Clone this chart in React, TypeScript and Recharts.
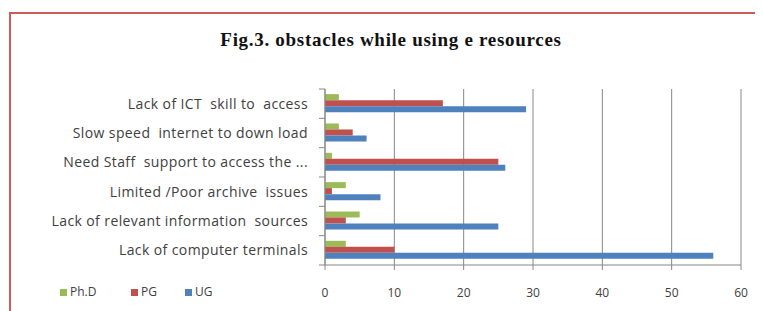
import { BarChart, Bar, XAxis, YAxis, CartesianGrid } from 'recharts';

// categories listed top to bottom, as in the figure
const categories = [
  'Lack of ICT  skill to  access',
  'Slow speed  internet to down load',
  'Need Staff  support to access the ...',
  'Limited /Poor archive  issues',
  'Lack of relevant information  sources',
  'Lack of computer terminals',
];

const phdValues = [2, 2, 1, 3, 5, 3];
const pgValues = [17, 4, 25, 1, 3, 10];
const ugValues = [29, 6, 26, 8, 25, 56];

const xTicks = [0, 10, 20, 30, 40, 50, 60];

const series = [
  { key: 'phd', name: 'Ph.D', color: '#9bbb59' },
  { key: 'pg', name: 'PG', color: '#c0504d' },
  { key: 'ug', name: 'UG', color: '#4f81bd' },
];

const data = categories.map((category, i) => ({
  category,
  phd: phdValues[i],
  pg: pgValues[i],
  ug: ugValues[i],
}));

const FONT = '"Open Sans", "Noto Sans", sans-serif';
const AXIS_COLOR = '#868686';
const TICK_SIZE = 6;
const TICK_MARGIN = 11;

// Excel draws category tick marks between bands, so draw them ourselves
function CategoryTick(props: any) {
  const { x, y, payload, index } = props;
  const half = payload?.offset ?? 14.67;
  const axisX = x + TICK_SIZE + TICK_MARGIN;
  return (
    <g>
      <line x1={axisX - TICK_SIZE} x2={axisX} y1={y - half} y2={y - half} stroke={AXIS_COLOR} />
      {index === categories.length - 1 && (
        <line x1={axisX - TICK_SIZE} x2={axisX} y1={y + half} y2={y + half} stroke={AXIS_COLOR} />
      )}
      <text
        x={x}
        y={y}
        dy="0.35em"
        textAnchor="end"
        fill="#404040"
        fontSize={14}
        letterSpacing={0.4}
        fontFamily={FONT}
        style={{ whiteSpace: 'pre' }}
      >
        {payload.value}
      </text>
    </g>
  );
}

export default function App() {
  return (
    <div style={{ position: 'relative', width: 755, height: 303, overflow: 'hidden', background: '#fff' }}>
      <div
        style={{
          position: 'absolute',
          left: 1,
          top: 4,
          width: 900,
          height: 400,
          border: '2px solid #d05a5a',
          boxSizing: 'border-box',
        }}
      />
      <div
        style={{
          position: 'absolute',
          left: 0,
          top: 21,
          width: 766,
          textAlign: 'center',
          fontFamily: '"Liberation Serif", serif',
          fontWeight: 'bold',
          fontSize: 19,
          letterSpacing: 0.7,
          color: '#111',
        }}
      >
        Fig.3. obstacles while using e resources
      </div>
      <BarChart
        width={755}
        height={303}
        data={data}
        layout="vertical"
        margin={{ top: 81, right: 22, bottom: 0, left: 0 }}
        barCategoryGap="17.5%"
        barGap={0}
        style={{ position: 'absolute', left: 0, top: 0 }}
      >
        <CartesianGrid horizontal={false} stroke={AXIS_COLOR} />
        <XAxis
          type="number"
          domain={[0, 60]}
          ticks={xTicks}
          height={46}
          tickSize={5}
          tickMargin={18}
          stroke={AXIS_COLOR}
          tick={{ fill: '#404040', fontSize: 12, fontFamily: FONT }}
        />
        <YAxis
          type="category"
          dataKey="category"
          width={317}
          tickLine={false}
          tickSize={TICK_SIZE}
          tickMargin={TICK_MARGIN}
          stroke={AXIS_COLOR}
          tick={<CategoryTick />}
          interval={0}
        />
        {series.map((s) => (
          <Bar key={s.key} dataKey={s.key} name={s.name} fill={s.color} isAnimationActive={false} />
        ))}
      </BarChart>
      <div
        style={{
          position: 'absolute',
          left: 52,
          top: 276,
          display: 'flex',
          fontFamily: FONT,
          fontSize: 12,
          color: '#404040',
          lineHeight: '16px',
        }}
      >
        {series.map((s) => (
          <div key={s.key} style={{ display: 'flex', alignItems: 'center', width: s.key === 'phd' ? 71 : 54 }}>
            <span style={{ width: 7, height: 7, background: s.color, marginRight: 3 }} />
            {s.name}
          </div>
        ))}
      </div>
    </div>
  );
}
